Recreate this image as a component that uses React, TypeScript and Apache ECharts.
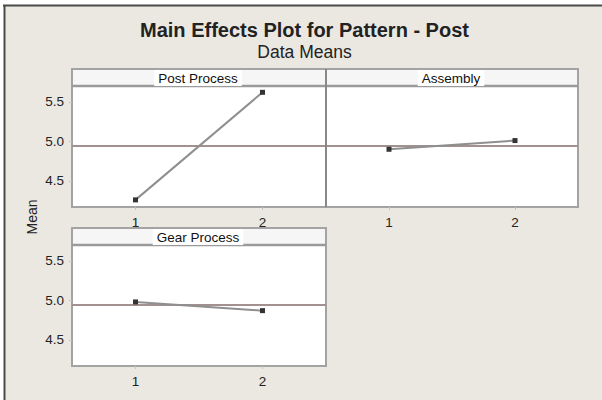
import React, { useEffect, useRef } from "react";
import * as echarts from "echarts";

// Factor names and their level codes
const factors = ["Post Process", "Assembly", "Gear Process"];
const levels = [1, 2];

// Mean response at each level of each factor
const postProcessMeans = [4.26, 5.62];
const assemblyMeans = [4.9, 5.01];
const gearProcessMeans = [4.98, 4.87];

// Shared value axis
const yTickValues = [4.5, 5.0, 5.5];
const yMin = 4.17;
const yMax = 5.7;

const factorMeans = [postProcessMeans, assemblyMeans, gearProcessMeans];
const allMeans = factorMeans.flat();
const grandMean = allMeans.reduce((a, b) => a + b, 0) / allMeans.length;

// Panel layout: plot area (below the strip) for each factor
const panels = [
  { left: 72, top: 86, width: 254, height: 121, showY: true },
  { left: 326, top: 86, width: 252, height: 121, showY: false },
  { left: 72, top: 245, width: 254, height: 121, showY: true },
];
const stripHeight = 17;

const FONT = "'Liberation Sans', Arial, sans-serif";

export default function App() {
  const ref = useRef<HTMLDivElement>(null);

  useEffect(() => {
    if (!ref.current) return;
    const chart = echarts.init(ref.current, undefined, { renderer: "svg" });

    const grids = panels.map((p) => ({
      left: p.left,
      top: p.top,
      width: p.width,
      height: p.height,
      show: true,
      backgroundColor: "#ffffff",
      borderColor: "#a3a3a3",
      borderWidth: 2,
      containLabel: false,
    }));

    const xAxes = panels.map((_, i) => ({
      type: "value",
      gridIndex: i,
      min: 0.5,
      max: 2.5,
      axisLine: { show: false },
      splitLine: { show: false },
      axisTick: {
        show: true,
        customValues: levels,
        length: 3,
        lineStyle: { color: "#c4c4c4" },
      },
      axisLabel: {
        customValues: levels,
        margin: 8,
        fontSize: 13.5,
        fontFamily: FONT,
        color: "#222",
        formatter: (v: number) => String(v),
      },
    }));

    const yAxes = panels.map((p, i) => ({
      type: "value",
      gridIndex: i,
      min: yMin,
      max: yMax,
      axisLine: { show: false },
      splitLine: { show: false },
      axisTick: {
        show: p.showY,
        customValues: yTickValues,
        length: 3,
        lineStyle: { color: "#c4c4c4" },
      },
      axisLabel: {
        show: p.showY,
        customValues: yTickValues,
        margin: 8,
        fontSize: 13.5,
        fontFamily: FONT,
        color: "#222",
        formatter: (v: number) => v.toFixed(1),
      },
    }));

    const series = factorMeans.map((means, i) => ({
      type: "line",
      name: factors[i],
      xAxisIndex: i,
      yAxisIndex: i,
      data: levels.map((lv, j) => [lv, means[j]]),
      symbol: "rect",
      symbolSize: 5,
      itemStyle: { color: "#333333" },
      lineStyle: { color: "#8f8f8f", width: 2 },
      z: 5,
      markLine: {
        silent: true,
        symbol: "none",
        label: { show: false },
        lineStyle: { color: "#a39090", width: 2, type: "solid" },
        data: [{ yAxis: grandMean }],
        z: 3,
      },
    }));

    const graphic: any[] = [
      // beige page panel
      {
        type: "rect",
        shape: { x: 5, y: 6, width: 597, height: 394 },
        style: { fill: "#ebe8e2" },
        z: -10,
      },
      {
        type: "line",
        shape: { x1: 3, y1: 5.5, x2: 602, y2: 5.5 },
        style: { stroke: "#4a4a4a", lineWidth: 2 },
        z: -9,
      },
      {
        type: "line",
        shape: { x1: 4.5, y1: 5, x2: 4.5, y2: 400 },
        style: { stroke: "#4a4a4a", lineWidth: 2 },
        z: -9,
      },
      {
        type: "text",
        x: 304.5,
        y: 30,
        style: {
          text: "Main Effects Plot for Pattern - Post",
          font: `bold 20px ${FONT}`,
          fill: "#222",
          align: "center",
          verticalAlign: "middle",
        },
      },
      {
        type: "text",
        x: 304.5,
        y: 52,
        style: {
          text: "Data Means",
          font: `17.5px ${FONT}`,
          fill: "#222",
          align: "center",
          verticalAlign: "middle",
        },
      },
      {
        type: "text",
        x: 32,
        y: 217,
        rotation: Math.PI / 2,
        style: {
          text: "Mean",
          font: `14px ${FONT}`,
          fill: "#222",
          align: "center",
          verticalAlign: "middle",
        },
      },
    ];

    // Strips with factor names
    panels.forEach((p, i) => {
      const sy = p.top - stripHeight;
      graphic.push({
        type: "rect",
        shape: { x: p.left, y: sy, width: p.width, height: stripHeight },
        style: { fill: "#f6f6f6", stroke: "#a3a3a3", lineWidth: 2 },
        z: 10,
      });
      graphic.push({
        type: "line",
        shape: { x1: p.left, y1: p.top, x2: p.left + p.width, y2: p.top },
        style: { stroke: "#9a9a9a", lineWidth: 2.5 },
        z: 11,
      });
      graphic.push({
        type: "text",
        x: p.left + p.width / 2 - 1,
        y: sy + stripHeight / 2 + 0.5,
        style: {
          text: factors[i],
          font: `13.5px ${FONT}`,
          fill: "#111",
          align: "center",
          verticalAlign: "middle",
          backgroundColor: "#ffffff",
          padding: [1, 4, 1, 4],
        },
        z: 12,
      });
    });

    // Divider between the two top panels
    graphic.push({
      type: "line",
      shape: { x1: 326, y1: 69, x2: 326, y2: 207 },
      style: { stroke: "#888888", lineWidth: 2 },
      z: 13,
    });

    chart.setOption({
      animation: false,
      backgroundColor: "#ffffff",
      grid: grids,
      xAxis: xAxes,
      yAxis: yAxes,
      series,
      graphic,
    });

    return () => chart.dispose();
  }, []);

  return (
    <div
      ref={ref}
      style={{ position: "absolute", left: 0, top: 0, width: 602, height: 400 }}
    />
  );
}
